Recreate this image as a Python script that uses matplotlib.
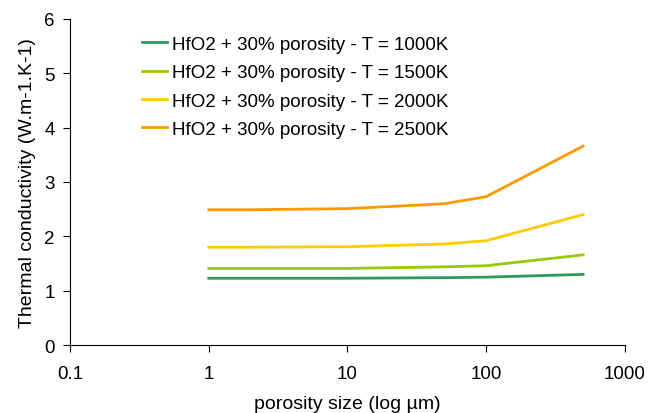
import numpy as np
import matplotlib.pyplot as plt

plt.rcParams['font.family'] = ['Liberation Sans', 'DejaVu Sans']

size = [1, 2, 10, 50, 100, 500]
k_1000 = [1.23, 1.23, 1.23, 1.24, 1.25, 1.30]
k_1500 = [1.41, 1.41, 1.41, 1.44, 1.46, 1.66]
k_2000 = [1.80, 1.80, 1.81, 1.86, 1.92, 2.40]
k_2500 = [2.49, 2.49, 2.51, 2.60, 2.73, 3.66]

labels = ["HfO2 + 30% porosity - T = 1000K",
          "HfO2 + 30% porosity - T = 1500K",
          "HfO2 + 30% porosity - T = 2000K",
          "HfO2 + 30% porosity - T = 2500K"]
colors = ["#2e9a5e", "#99cc00", "#ffcc00", "#ff9900"]

fig = plt.figure(figsize=(6.55, 4.14), dpi=100)
ax = fig.add_axes([0.107, 0.164, 0.847, 0.788])

for ys, lab, c in zip([k_1000, k_1500, k_2000, k_2500], labels, colors):
    ax.plot(size, ys, color=c, lw=2, label=lab)

ax.set_xscale("log")
ax.set_xlim(0.1, 1000)
ax.set_ylim(0, 6)
ax.set_xticks([0.1, 1, 10, 100, 1000])
ax.set_xticklabels(["0.1", "1", "10", "100", "1000"])
ax.minorticks_off()
ax.set_yticks(range(0, 7))
ax.spines["top"].set_visible(False)
ax.spines["right"].set_visible(False)
ax.tick_params(direction="out", length=5, labelsize=13.5, pad=6)
ax.tick_params(axis="x", pad=9)
ax.set_xlabel("porosity size (log µm)", fontsize=14, labelpad=10)
ax.set_ylabel("Thermal conductivity (W.m-1.K-1)", fontsize=14, labelpad=6)

ax.legend(loc="upper left", bbox_to_anchor=(0.1, 1.0), frameon=False,
          fontsize=13.5, handlelength=1.3, handletextpad=0.3, labelspacing=0.6)

plt.savefig("out.png")
